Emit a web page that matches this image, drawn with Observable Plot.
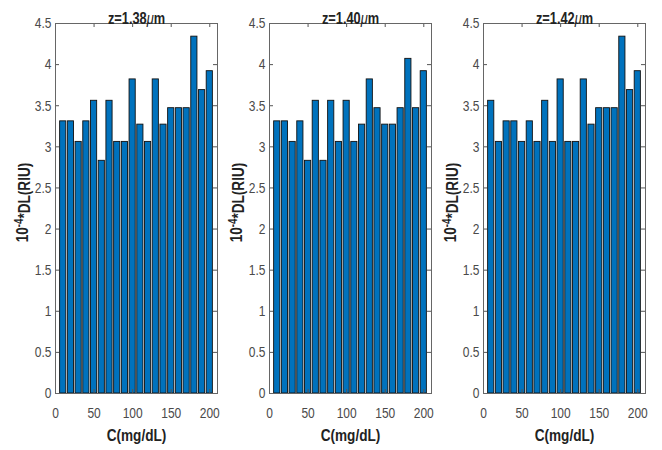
<!DOCTYPE html>
<html>
<head>
<meta charset="utf-8">
<script src="https://cdn.jsdelivr.net/npm/d3@7"></script>
<script src="https://cdn.jsdelivr.net/npm/@observablehq/plot@0.6"></script>
<style>
  html, body { margin: 0; padding: 0; background: #fff; }
  #chart { position: relative; width: 662px; height: 450px; overflow: hidden; }
  #chart svg { position: absolute; top: 0; overflow: visible; }
</style>
</head>
<body>
<div id="chart"></div>
<script>
// Concentrations (mg/dL)
const concentrations = [10, 20, 30, 40, 50, 60, 70, 80, 90, 100, 110, 120, 130, 140, 150, 160, 170, 180, 190, 200];
// Panel titles (z values)
const panelTitles = ["z=1.38μm", "z=1.40μm", "z=1.42μm"];
// Detection limit values (×10^-4 RIU)
const dlZ138 = [3.31, 3.31, 3.06, 3.31, 3.56, 2.83, 3.56, 3.06, 3.06, 3.82, 3.27, 3.06, 3.82, 3.27, 3.47, 3.47, 3.47, 4.34, 3.69, 3.92];
const dlZ140 = [3.31, 3.31, 3.06, 3.31, 2.83, 3.56, 2.83, 3.56, 3.06, 3.56, 3.06, 3.27, 3.82, 3.47, 3.27, 3.27, 3.47, 4.07, 3.47, 3.92];
const dlZ142 = [3.56, 3.06, 3.31, 3.31, 3.06, 3.31, 3.06, 3.56, 3.06, 3.82, 3.06, 3.06, 3.82, 3.27, 3.47, 3.47, 3.47, 4.34, 3.69, 3.92];
// Tick values
const xTicks = [0, 50, 100, 150, 200];
const yTicks = [0, 0.5, 1, 1.5, 2, 2.5, 3, 3.5, 4, 4.5];
const xLabel = "C(mg/dL)";
const yLabel = "10^-4*DL(RIU)";

const series = [dlZ138, dlZ140, dlZ142];
const FONT = "'Liberation Sans', Arial, sans-serif";
const frameW = 162, frameH = 370, tick = 4;
const container = document.getElementById("chart");
const ns = "http://www.w3.org/2000/svg";

function tspan(txt, attrs = {}) {
  const s = document.createElementNS(ns, "tspan");
  s.textContent = txt;
  for (const k in attrs) s.setAttribute(k, attrs[k]);
  return s;
}

series.forEach((vals, i) => {
  const data = concentrations.map((c, j) => ({c, v: vals[j]}));
  const svg = Plot.plot({
    width: 232,
    height: 450,
    marginLeft: 55,
    marginRight: 15,
    marginTop: 23,
    marginBottom: 57,
    style: {fontFamily: FONT, fontSize: "15px", color: "#4a4a4a", background: "transparent"},
    x: {domain: [0, 210], ticks: xTicks, tickFormat: d => String(d), tickSize: 0, tickPadding: 14, label: null},
    y: {domain: [0, 4.5], ticks: yTicks, tickFormat: d => String(d), tickSize: 0, tickPadding: 4, label: null},
    marks: [
      Plot.rectY(data, {x1: d => d.c - 4, x2: d => d.c + 4, y1: 0, y2: "v", fill: "#0072BD", stroke: "#111", strokeWidth: 0.9}),
      Plot.ruleX(xTicks, {x: d => d, insetTop: frameH - tick, stroke: "#555"}),
      Plot.ruleX(xTicks, {x: d => d, insetBottom: frameH - tick, stroke: "#555"}),
      Plot.ruleY(yTicks, {y: d => d, insetRight: frameW - tick, stroke: "#555"}),
      Plot.ruleY(yTicks, {y: d => d, insetLeft: frameW - tick, stroke: "#555"}),
      Plot.frame({stroke: "#666"}),
      Plot.text([panelTitles[i]], {frameAnchor: "top", dy: -11, text: d => d, fontWeight: "bold", fontSize: 16, fill: "#222"}),
      Plot.text([xLabel], {frameAnchor: "bottom", dy: 47, text: d => d, fontWeight: "bold", fontSize: 17, fill: "#222"}),
      Plot.text([yLabel], {frameAnchor: "left", textAnchor: "middle", dx: -33, dy: -6, rotate: -90, text: d => d, fontWeight: "bold", fontSize: 17, fill: "#222"})
    ]
  });
  svg.style.left = (i * 214) + "px";
  svg.querySelectorAll("text").forEach(t => {
    const s = t.textContent;
    if (s.includes("μ")) {
      // italic mu in panel titles
      const [pre, post] = s.split("μ");
      t.textContent = "";
      t.append(tspan(pre), tspan("μ", {"font-style": "italic", "font-weight": "normal"}), tspan(post));
    } else if (s.includes("^")) {
      // superscript exponent in the y label
      const [base, rest] = s.split("^");
      const exp = rest.slice(0, 2), tail = rest.slice(2);
      t.textContent = "";
      t.append(tspan(base), tspan(exp, {"dy": "-0.45em", "font-size": "12"}), tspan(tail, {"dy": "0.45em"}));
    }
    // condensed lettering as in the reference
    const tr = t.getAttribute("transform");
    if (tr) t.setAttribute("transform", tr + " scale(0.8,1)");
  });
  container.appendChild(svg);
});
</script>
</body>
</html>
